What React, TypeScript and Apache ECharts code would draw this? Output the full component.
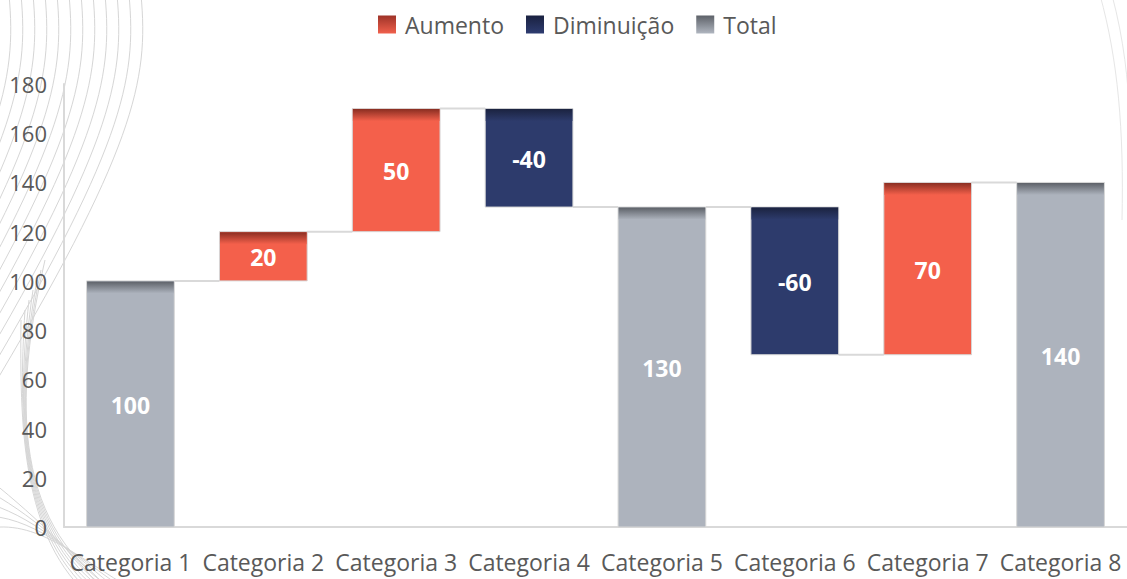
import React, { useEffect, useRef } from "react";
import * as echarts from "echarts";

const categories = ["Categoria 1", "Categoria 2", "Categoria 3", "Categoria 4", "Categoria 5", "Categoria 6", "Categoria 7", "Categoria 8"];
const values = [100, 20, 50, -40, 130, -60, 70, 140];
const kinds = ["total", "up", "up", "down", "total", "down", "up", "total"];
const yTicks = { min: 0, max: 180, interval: 20 };
const seriesNames = { up: "Aumento", down: "Diminuição", total: "Total" };

const palette: Record<string, { base: string; top: string; iconTop: string; iconBottom: string }> = {
  up: { base: "#F4604B", top: "#8A2E22", iconTop: "#9E3328", iconBottom: "#F0604C" },
  down: { base: "#2D3B6C", top: "#1B2340", iconTop: "#1A2140", iconBottom: "#2E3C70" },
  total: { base: "#ADB3BD", top: "#5D6168", iconTop: "#5D6168", iconBottom: "#B0B6C0" },
};

function buildRows() {
  const rows: Record<string, any[]> = { up: [], down: [], total: [] };
  const levels: number[] = [];
  let level = 0;
  values.forEach((v, i) => {
    const k = kinds[i];
    let lo: number, hi: number;
    if (k === "total") {
      lo = 0; hi = v; level = v;
    } else if (v >= 0) {
      lo = level; hi = level + v; level = hi;
    } else {
      hi = level; lo = level + v; level = lo;
    }
    rows[k].push([i, lo, hi, v]);
    levels.push(level);
  });
  const connectors = levels.slice(0, -1).map((l, i) => [i, l]);
  return { rows, connectors };
}

export default function App() {
  const ref = useRef<HTMLDivElement>(null);
  useEffect(() => {
    if (!ref.current) return;
    const chart = echarts.init(ref.current, null, { renderer: "svg" });
    const { rows, connectors } = buildRows();
    const font = "'Open Sans', 'Noto Sans', sans-serif";

    const barRender = (kind: string) => (params: any, api: any) => {
      const x = api.value(0);
      const lo = api.value(1);
      const hi = api.value(2);
      const lbl = api.value(3);
      const pTop = api.coord([x, hi]);
      const pBot = api.coord([x, lo]);
      const bw = api.size([1, 0])[0] * 0.66;
      const left = pTop[0] - bw / 2;
      const h = pBot[1] - pTop[1];
      const band = Math.min(12, h);
      const c = palette[kind];
      return {
        type: "group",
        children: [
          {
            type: "rect",
            shape: { x: left, y: pTop[1], width: bw, height: h },
            style: { fill: c.base, stroke: "#d6d6d6", lineWidth: 1 },
          },
          {
            type: "rect",
            shape: { x: left + 0.5, y: pTop[1] + 0.5, width: bw - 1, height: band },
            style: {
              fill: new echarts.graphic.LinearGradient(0, 0, 0, 1, [
                { offset: 0, color: c.top },
                { offset: 1, color: c.base },
              ]),
            },
          },
          {
            type: "text",
            style: {
              text: String(lbl),
              x: pTop[0],
              y: (pTop[1] + pBot[1]) / 2 + 1,
              align: "center",
              verticalAlign: "middle",
              fill: "#ffffff",
              font: `bold 23px ${font}`,
            },
          },
        ],
      };
    };

    const connectorRender = (params: any, api: any) => {
      const i = api.value(0);
      const l = api.value(1);
      const a = api.coord([i, l]);
      const b = api.coord([i + 1, l]);
      const bw = api.size([1, 0])[0] * 0.66;
      return {
        type: "line",
        shape: { x1: a[0] + bw / 2, y1: a[1], x2: b[0] - bw / 2, y2: b[1] },
        style: { stroke: "#d9d9d9", lineWidth: 2 },
      };
    };

    const iconGrad = (k: string) =>
      new echarts.graphic.LinearGradient(0, 0, 0, 1, [
        { offset: 0, color: palette[k].iconTop },
        { offset: 1, color: palette[k].iconBottom },
      ]);

    const deco: any[] = [];
    const decoStroke = "#d6d6d6";
    for (let k = 0; k < 13; k++) {
      const xt = 145 - k * 12;
      deco.push({
        type: "bezierCurve",
        silent: true,
        z: -10,
        shape: { x1: xt - 4, y1: -5, cpx1: xt + 4, cpy1: 80, cpx2: xt - 10, cpy2: 150, x2: xt - 160, y2: 400 },
        style: { stroke: decoStroke, lineWidth: 1, fill: null },
      });
    }
    for (let k = 0; k < 7; k++) {
      deco.push({
        type: "bezierCurve",
        silent: true,
        z: -10,
        shape: { x1: 45 - k * 4, y1: 260 + k * 10, cpx1: 8 + k * 2, cpy1: 420, cpx2: 20, cpy2: 540, x2: 130 - k * 6, y2: 600 },
        style: { stroke: decoStroke, lineWidth: 1, fill: null },
      });
    }
    for (let k = 0; k < 5; k++) {
      deco.push({
        type: "bezierCurve",
        silent: true,
        z: -10,
        shape: { x1: -10, y1: 480 + k * 12, cpx1: 40, cpy1: 520, cpx2: 80, cpy2: 560, x2: 110 + k * 10, y2: 600 },
        style: { stroke: decoStroke, lineWidth: 1, fill: null },
      });
    }
    deco.push({
      type: "bezierCurve",
      silent: true,
      z: -10,
      shape: { x1: 1100, y1: -5, cpx1: 1118, cpy1: 60, cpx2: 1124, cpy2: 130, x2: 1122, y2: 220 },
      style: { stroke: "#e6e6e6", lineWidth: 1, fill: null },
    });
    deco.push({
      type: "bezierCurve",
      silent: true,
      z: -10,
      shape: { x1: 1112, y1: -5, cpx1: 1124, cpy1: 40, cpx2: 1128, cpy2: 80, x2: 1130, y2: 120 },
      style: { stroke: "#e6e6e6", lineWidth: 1, fill: null },
    });

    chart.setOption({
      animation: false,
      backgroundColor: "#ffffff",
      graphic: deco,
      legend: {
        top: 13,
        left: 378,
        padding: 0,
        itemWidth: 18,
        itemHeight: 18,
        itemGap: 22,
        icon: "rect",
        textStyle: { fontSize: 23, color: "#595959", fontFamily: font, padding: [0, 0, 0, 4] },
        data: (["up", "down", "total"] as const).map((k) => ({
          name: seriesNames[k],
          itemStyle: { color: iconGrad(k) },
        })),
      },
      grid: { left: 64, right: -1, top: 84, bottom: 52, containLabel: false },
      xAxis: {
        type: "category",
        data: categories,
        axisLine: { lineStyle: { color: "#d9d9d9", width: 2 } },
        axisTick: { show: false },
        axisLabel: { color: "#595959", fontSize: 23, fontFamily: font, margin: 23, interval: 0 },
      },
      yAxis: {
        type: "value",
        min: yTicks.min,
        max: yTicks.max,
        interval: yTicks.interval,
        axisLine: { show: true, lineStyle: { color: "#d9d9d9", width: 2 } },
        axisTick: { show: false },
        splitLine: { show: false },
        axisLabel: { color: "#595959", fontSize: 22, fontFamily: font, margin: 17 },
      },
      series: [
        ...(["up", "down", "total"] as const).map((k) => ({
          type: "custom",
          name: seriesNames[k],
          renderItem: barRender(k),
          encode: { x: 0, y: [1, 2] },
          itemStyle: { color: palette[k].base },
          data: rows[k],
          z: 3,
        })),
        {
          type: "custom",
          name: "connectors",
          renderItem: connectorRender,
          encode: { x: 0, y: 1 },
          data: connectors,
          silent: true,
          z: 2,
        },
      ],
    });
    return () => chart.dispose();
  }, []);
  return <div ref={ref} style={{ position: "fixed", left: 0, top: 0, width: 1127, height: 579 }} />;
}
